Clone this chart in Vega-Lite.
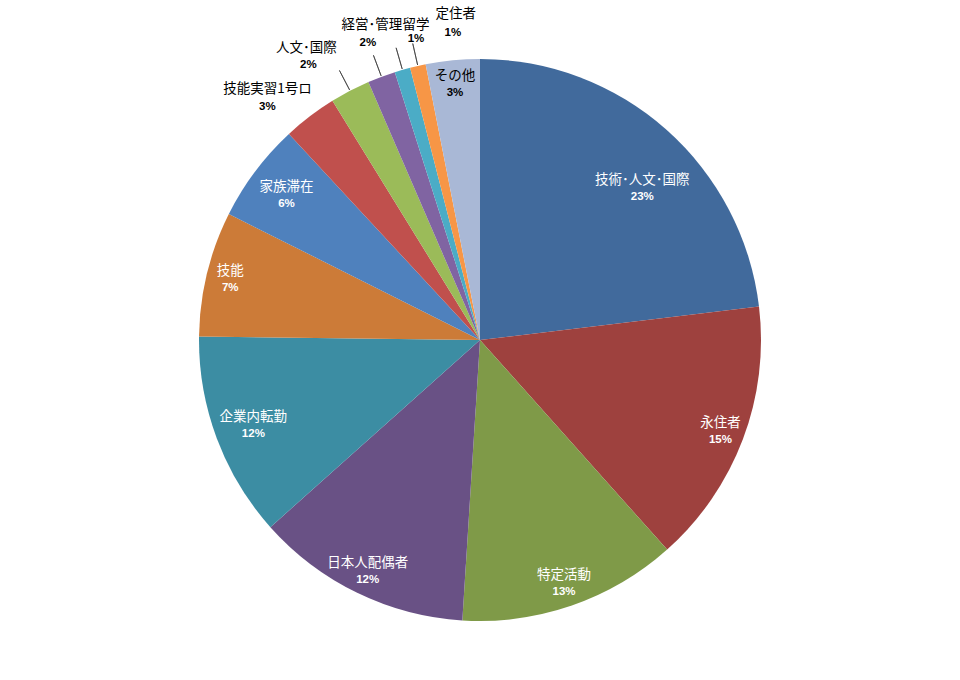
{
  "$schema": "https://vega.github.io/schema/vega-lite/v6.json",
  "description": "在留資格別の構成比（円グラフ）",
  "width": 960,
  "height": 680,
  "autosize": {"type": "fit", "contains": "padding"},
  "background": "white",
  "config": {"view": {"stroke": null}},
  "data": {
    "values": [
      {"name": "技術･人文･国際", "value": 0.231},
      {"name": "永住者", "value": 0.153},
      {"name": "特定活動", "value": 0.126},
      {"name": "日本人配偶者", "value": 0.124},
      {"name": "企業内転勤", "value": 0.118},
      {"name": "技能", "value": 0.072},
      {"name": "家族滞在", "value": 0.057},
      {"name": "技能実習1号ロ", "value": 0.031},
      {"name": "経営･管理", "value": 0.023},
      {"name": "人文･国際", "value": 0.016},
      {"name": "留学", "value": 0.009},
      {"name": "定住者", "value": 0.009},
      {"name": "その他", "value": 0.031}
    ]
  },
  "transform": [
    {"stack": "value", "groupby": [], "as": ["v0", "v1"]},
    {"calculate": "(datum.v0 + datum.v1) / 2", "as": "vmid"}
  ],
  "encoding": {
    "theta": {"field": "vmid", "type": "quantitative", "stack": null, "scale": {"domain": [0, 1]}}
  },
  "layer": [
    {
      "mark": {"type": "arc", "outerRadius": 281},
      "encoding": {
        "theta": {"field": "v0", "type": "quantitative", "stack": null, "scale": {"domain": [0, 1]}},
        "theta2": {"field": "v1"},
        "color": {
          "field": "name", "type": "nominal", "legend": null,
          "scale": {
            "domain": ["技術･人文･国際", "永住者", "特定活動", "日本人配偶者", "企業内転勤", "技能", "家族滞在", "技能実習1号ロ", "経営･管理", "人文･国際", "留学", "定住者", "その他"],
            "range": ["#416A9C", "#9E413E", "#7F9A48", "#695185", "#3C8DA3", "#CC7B38", "#4F81BD", "#C0504D", "#9BBB59", "#8064A2", "#4BACC6", "#F79646", "#A9B8D6"]
          }
        }
      }
    },
    {
      "transform": [{"filter": {"field": "name", "oneOf": ["経営･管理", "人文･国際", "留学", "定住者"]}}],
      "mark": {"type": "arc", "radius": 304, "radius2": 282, "fill": null, "stroke": "#333333", "strokeWidth": 0.7},
      "encoding": {"theta2": {"field": "vmid"}}
    },
    {
      "transform": [{"filter": {"field": "name", "oneOf": ["永住者", "特定活動", "日本人配偶者", "技能"]}}],
      "mark": {"type": "text", "radius": 257, "dy": -8, "font": "Noto Sans CJK JP", "fontSize": 13.5, "color": "white"},
      "encoding": {"text": {"field": "name"}}
    },
    {
      "transform": [{"filter": {"field": "name", "oneOf": ["永住者", "特定活動", "日本人配偶者", "技能"]}}],
      "mark": {"type": "text", "radius": 257, "dy": 9, "font": "Liberation Sans", "fontWeight": "bold", "fontSize": 11.5, "color": "white"},
      "encoding": {"text": {"field": "value", "format": ".0%"}}
    },
    {
      "transform": [{"filter": {"field": "name", "oneOf": ["企業内転勤", "家族滞在"]}}],
      "mark": {"type": "text", "radius": 242, "dy": -8, "font": "Noto Sans CJK JP", "fontSize": 13.5, "color": "white"},
      "encoding": {"text": {"field": "name"}}
    },
    {
      "transform": [{"filter": {"field": "name", "oneOf": ["企業内転勤", "家族滞在"]}}],
      "mark": {"type": "text", "radius": 242, "dy": 9, "font": "Liberation Sans", "fontWeight": "bold", "fontSize": 11.5, "color": "white"},
      "encoding": {"text": {"field": "value", "format": ".0%"}}
    },
    {
      "transform": [{"filter": {"field": "name", "equal": "技術･人文･国際"}}],
      "mark": {"type": "text", "radius": 222, "dx": 15, "dy": 6, "font": "Noto Sans CJK JP", "fontSize": 13.5, "color": "white"},
      "encoding": {"text": {"field": "name"}}
    },
    {
      "transform": [{"filter": {"field": "name", "equal": "技術･人文･国際"}}],
      "mark": {"type": "text", "radius": 222, "dx": 15, "dy": 23, "font": "Liberation Sans", "fontWeight": "bold", "fontSize": 11.5, "color": "white"},
      "encoding": {"text": {"field": "value", "format": ".0%"}}
    },
    {
      "transform": [{"filter": {"field": "name", "equal": "その他"}}],
      "mark": {"type": "text", "radius": 257, "dy": -8, "font": "Noto Sans CJK JP", "fontSize": 13.5, "color": "black"},
      "encoding": {"text": {"field": "name"}}
    },
    {
      "transform": [{"filter": {"field": "name", "equal": "その他"}}],
      "mark": {"type": "text", "radius": 257, "dy": 9, "font": "Liberation Sans", "fontWeight": "bold", "fontSize": 11.5, "color": "black"},
      "encoding": {"text": {"field": "value", "format": ".0%"}}
    },
    {
      "transform": [{"filter": {"field": "name", "equal": "技能実習1号ロ"}}],
      "mark": {"type": "text", "radius": 290, "dx": -37, "dy": -20, "font": "Noto Sans CJK JP", "fontSize": 13.5, "color": "black"},
      "encoding": {"text": {"field": "name"}}
    },
    {
      "transform": [{"filter": {"field": "name", "equal": "技能実習1号ロ"}}],
      "mark": {"type": "text", "radius": 290, "dx": -37, "dy": -2, "font": "Liberation Sans", "fontWeight": "bold", "fontSize": 11.5, "color": "black"},
      "encoding": {"text": {"field": "value", "format": ".0%"}}
    },
    {
      "transform": [{"filter": {"field": "name", "equal": "経営･管理"}}],
      "mark": {"type": "text", "radius": 290, "dx": 26, "dy": -58, "font": "Noto Sans CJK JP", "fontSize": 13.5, "color": "black"},
      "encoding": {"text": {"field": "name"}}
    },
    {
      "transform": [{"filter": {"field": "name", "equal": "経営･管理"}}],
      "mark": {"type": "text", "radius": 290, "dx": 22, "dy": -40, "font": "Liberation Sans", "fontWeight": "bold", "fontSize": 11.5, "color": "black"},
      "encoding": {"text": {"field": "value", "format": ".0%"}}
    },
    {
      "transform": [{"filter": {"field": "name", "equal": "人文･国際"}}],
      "mark": {"type": "text", "radius": 290, "dx": -72, "dy": -20, "font": "Noto Sans CJK JP", "fontSize": 13.5, "color": "black"},
      "encoding": {"text": {"field": "name"}}
    },
    {
      "transform": [{"filter": {"field": "name", "equal": "人文･国際"}}],
      "mark": {"type": "text", "radius": 290, "dx": -70, "dy": -3, "font": "Liberation Sans", "fontWeight": "bold", "fontSize": 11.5, "color": "black"},
      "encoding": {"text": {"field": "value", "format": ".0%"}}
    },
    {
      "transform": [{"filter": {"field": "name", "equal": "留学"}}],
      "mark": {"type": "text", "radius": 290, "dx": 16, "dy": -36, "font": "Noto Sans CJK JP", "fontSize": 13.5, "color": "black"},
      "encoding": {"text": {"field": "name"}}
    },
    {
      "transform": [{"filter": {"field": "name", "equal": "留学"}}],
      "mark": {"type": "text", "radius": 290, "dx": 16, "dy": -22, "font": "Liberation Sans", "fontWeight": "bold", "fontSize": 11.5, "color": "black"},
      "encoding": {"text": {"field": "value", "format": ".0%"}}
    },
    {
      "transform": [{"filter": {"field": "name", "equal": "定住者"}}],
      "mark": {"type": "text", "radius": 290, "dx": 40, "dy": -43, "font": "Noto Sans CJK JP", "fontSize": 13.5, "color": "black"},
      "encoding": {"text": {"field": "name"}}
    },
    {
      "transform": [{"filter": {"field": "name", "equal": "定住者"}}],
      "mark": {"type": "text", "radius": 290, "dx": 37, "dy": -24, "font": "Liberation Sans", "fontWeight": "bold", "fontSize": 11.5, "color": "black"},
      "encoding": {"text": {"field": "value", "format": ".0%"}}
    }
  ]
}
